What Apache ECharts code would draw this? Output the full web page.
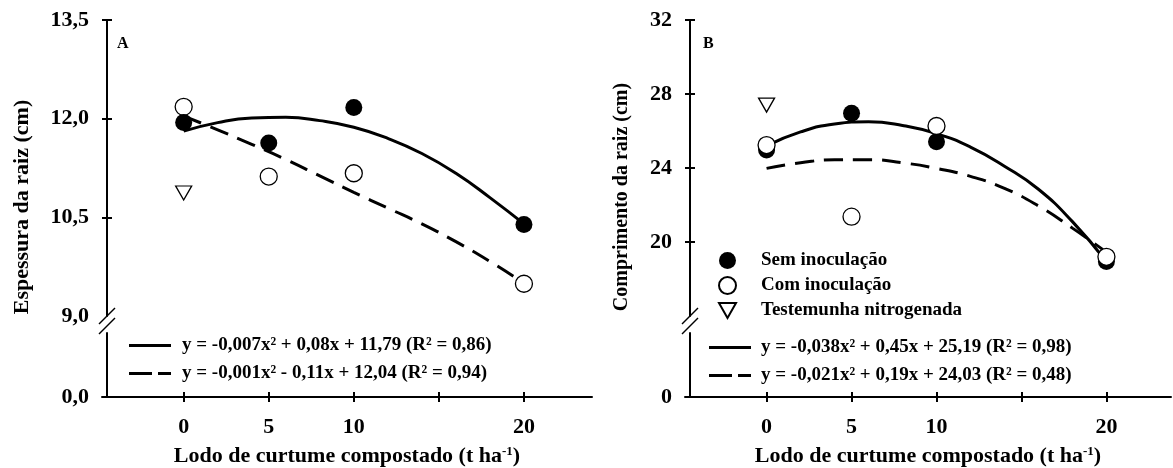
<!DOCTYPE html>
<html>
<head>
<meta charset="utf-8">
<script src="https://cdn.jsdelivr.net/npm/echarts@6/dist/echarts.min.js"></script>
<style>
html, body { margin: 0; padding: 0; background: #fff; }
#chart { width: 1173px; height: 468px; }
</style>
</head>
<body>
<div id="chart"></div>
<script>
// doses de lodo (t/ha)
var doses = [0, 5, 10, 20];
var testDose = [0];

// A - espessura da raiz (cm)
var espSem = [11.94, 11.63, 12.17, 10.39];
var espCom = [12.18, 11.12, 11.17, 9.49];
var espTest = [10.87];

// B - comprimento da raiz (cm)
var compSem = [24.97, 26.96, 25.42, 18.94];
var compCom = [25.24, 21.37, 26.27, 19.2];
var compTest = [27.4];

// curvas ajustadas
var fitX = [0, 2, 4, 6, 8, 10, 12, 14, 16, 18, 20];
var espFitSem = [11.81, 11.94, 12.01, 12.02, 11.97, 11.87, 11.70, 11.47, 11.17, 10.80, 10.40];
var espFitCom = [12.04, 11.83, 11.61, 11.38, 11.13, 10.88, 10.64, 10.40, 10.13, 9.83, 9.50];
var compFitSem = [25.20, 25.95, 26.38, 26.50, 26.30, 25.86, 25.13, 24.10, 22.85, 21.10, 18.94];
var compFitCom = [23.98, 24.28, 24.45, 24.45, 24.28, 23.98, 23.55, 22.90, 21.95, 20.75, 19.45];

var eqA1 = 'y = -0,007x² + 0,08x + 11,79 (R² = 0,86)';
var eqA2 = 'y = -0,001x² - 0,11x + 12,04 (R² = 0,94)';
var eqB1 = 'y = -0,038x² + 0,45x + 25,19 (R² = 0,98)';
var eqB2 = 'y = -0,021x² + 0,19x + 24,03 (R² = 0,48)';

var espLabels = [9, 10.5, 12, 13.5];
var espTicks = [10.5, 12, 13.5];
var compTicks = [20, 24, 28, 32];
var doseLabels = [0, 5, 10, 20];
var doseTicks = [0, 5, 10, 15, 20];

var FONT = 'Liberation Serif';
var xTitle = 'Lodo de curtume compostado (t ha{sup|-1})';

function pairs(xs, ys) {
    return xs.map(function (x, i) { return [x, ys[i]]; });
}
function comma(v) {
    return v.toFixed(1).replace('.', ',');
}
function plain(v) {
    return String(v);
}

var labelStyle = { color: '#000', fontFamily: FONT, fontWeight: 'bold', fontSize: 22 };

// cada eixo recebe seu proprio objeto (objeto compartilhado sumia com os ticks)
function axisLineOn() {
    return { show: true, onZero: false, lineStyle: { color: '#000', width: 2 } };
}
function axisLineOff() {
    return { show: false, onZero: false };
}
function ticks(values, inside) {
    var t = { show: true, length: 5, customValues: values, lineStyle: { color: '#000', width: 2 } };
    if (inside) t.inside = true;
    return t;
}

function topX(grid, max) {
    return { gridIndex: grid, type: 'value', min: -4.8, max: max, show: false };
}
function bottomX(grid, max, inside) {
    return {
        gridIndex: grid, type: 'value', min: -4.8, max: max, position: 'bottom',
        axisLine: inside ? axisLineOff() : axisLineOn(),
        axisTick: ticks(doseTicks, inside),
        axisLabel: inside ? { show: false } : Object.assign({ customValues: doseLabels, margin: 19 }, labelStyle),
        splitLine: { show: false },
        name: inside ? '' : xTitle,
        nameLocation: 'middle',
        nameGap: 48,
        nameTextStyle: {
            color: '#000', fontFamily: FONT, fontWeight: 'bold', fontSize: 22,
            rich: { sup: { fontFamily: FONT, fontWeight: 'bold', fontSize: 13, verticalAlign: 'top', padding: [0, 0, 9, 0] } }
        }
    };
}
function topY(grid, min, max, interval, tickVals, labels, fmt, inside) {
    return {
        gridIndex: grid, type: 'value', position: 'left', offset: -5,
        min: min, max: max, interval: interval,
        axisLine: inside ? axisLineOff() : axisLineOn(),
        axisTick: ticks(tickVals, inside),
        axisLabel: inside ? { show: false } : Object.assign({ customValues: labels, margin: 18, formatter: fmt }, labelStyle),
        splitLine: { show: false }
    };
}
function bottomY(grid, label) {
    return {
        gridIndex: grid, type: 'value', position: 'left', offset: -5, min: 0, max: 1,
        axisLine: axisLineOn(),
        axisTick: { show: false },
        axisLabel: Object.assign({ customValues: [0], margin: 18, formatter: function () { return label; } }, labelStyle),
        splitLine: { show: false }
    };
}

var openStyle = { color: '#fff', borderColor: '#000', borderWidth: 1.3, opacity: 1 };
var triangle = 'path://M0,0L16,0L8,14Z';

function panelSeries(xi, yi, sem, com, test, fitSem, fitCom, eq1, eq2, openOnTop) {
    return [
        { type: 'line', name: eq1, xAxisIndex: xi, yAxisIndex: yi, data: pairs(fitX, fitSem), smooth: true,
          symbol: 'none', lineStyle: { color: '#000', width: 3 }, itemStyle: { color: '#000' }, z: 2 },
        { type: 'line', name: eq2, xAxisIndex: xi, yAxisIndex: yi, data: pairs(fitX, fitCom), smooth: true,
          symbol: 'none', lineStyle: { color: '#000', width: 3, type: [19, 10] }, itemStyle: { color: '#000' }, z: 2 },
        { type: 'scatter', name: 'Sem inoculação', xAxisIndex: xi, yAxisIndex: yi, data: pairs(doses, sem),
          symbol: 'circle', symbolSize: 17, itemStyle: { color: '#000', opacity: 1 }, z: openOnTop ? 3 : 4 },
        { type: 'scatter', name: 'Com inoculação', xAxisIndex: xi, yAxisIndex: yi, data: pairs(doses, com),
          symbol: 'circle', symbolSize: 17, itemStyle: openStyle, z: openOnTop ? 4 : 3 },
        { type: 'scatter', name: 'Testemunha nitrogenada', xAxisIndex: xi, yAxisIndex: yi, data: pairs(testDose, test),
          symbol: triangle, symbolSize: [16, 14], itemStyle: openStyle, z: 3 }
    ];
}

var legendText = { color: '#000', fontFamily: FONT, fontWeight: 'bold', fontSize: 19, lineHeight: 19 };
var solidIcon = 'path://M0,0H42V3H0Z';
var dashIcon = 'path://M0,0H23V3H0ZM29,0H42V3H29Z';

var chart = echarts.init(document.getElementById('chart'));
chart.setOption({
    animation: false,
    backgroundColor: '#fff',
    title: [
        { text: 'A', left: 117, top: 36, padding: 0, textStyle: { color: '#000', fontFamily: FONT, fontWeight: 'bold', fontSize: 16 } },
        { text: 'B', left: 703, top: 36, padding: 0, textStyle: { color: '#000', fontFamily: FONT, fontWeight: 'bold', fontSize: 16 } }
    ],
    grid: [
        { left: 102, top: 20, width: 490, height: 296, outerBoundsMode: 'none' },
        { left: 102, top: 333, width: 490, height: 64, outerBoundsMode: 'none' },
        { left: 685, top: 20, width: 486, height: 296, outerBoundsMode: 'none' },
        { left: 685, top: 333, width: 486, height: 64, outerBoundsMode: 'none' }
    ],
    xAxis: [
        topX(0, 24), bottomX(1, 24, false), bottomX(1, 24, true),
        topX(2, 23.8), bottomX(3, 23.8, false), bottomX(3, 23.8, true)
    ],
    yAxis: [
        topY(0, 9, 13.5, 1.5, espTicks, espLabels, comma, false),
        topY(0, 9, 13.5, 1.5, espTicks, espLabels, comma, true),
        bottomY(1, '0,0'),
        topY(2, 16, 32, 4, compTicks, compTicks, plain, false),
        topY(2, 16, 32, 4, compTicks, compTicks, plain, true),
        bottomY(3, '0')
    ],
    legend: [
        { data: ['Sem inoculação', 'Com inoculação', 'Testemunha nitrogenada'], orient: 'vertical',
          left: 718, top: 251, itemWidth: 17, itemHeight: 17, itemGap: 6, padding: 0, selectedMode: false,
          textStyle: Object.assign({ padding: [0, 0, 0, 20] }, legendText) },
        { data: [{ name: eqA1, icon: solidIcon }, { name: eqA2, icon: dashIcon }], orient: 'vertical', left: 129, top: 336,
          itemWidth: 42, itemHeight: 3, itemGap: 9, padding: 0, selectedMode: false,
          textStyle: Object.assign({ padding: [0, 0, 0, 6] }, legendText) },
        { data: [{ name: eqB1, icon: solidIcon }, { name: eqB2, icon: dashIcon }], orient: 'vertical', left: 709, top: 338,
          itemWidth: 42, itemHeight: 3, itemGap: 9, padding: 0, selectedMode: false,
          textStyle: Object.assign({ padding: [0, 0, 0, 5] }, legendText) }
    ],
    graphic: [
        { type: 'text', x: 22, y: 207, rotation: Math.PI / 2,
          style: { text: 'Espessura da raiz (cm)', fill: '#000', font: 'bold 22px "Liberation Serif"', align: 'center', verticalAlign: 'middle', textAlign: 'center', textVerticalAlign: 'middle' } },
        { type: 'text', x: 622, y: 197, rotation: Math.PI / 2,
          style: { text: 'Comprimento da raiz (cm)', fill: '#000', font: 'bold 20px "Liberation Serif"', align: 'center', verticalAlign: 'middle', textAlign: 'center', textVerticalAlign: 'middle' } },
        // quebras do eixo y
        { type: 'line', shape: { x1: 99, y1: 324, x2: 115, y2: 308 }, style: { stroke: '#000', lineWidth: 1.5 } },
        { type: 'line', shape: { x1: 99, y1: 334, x2: 115, y2: 318 }, style: { stroke: '#000', lineWidth: 1.5 } },
        { type: 'line', shape: { x1: 682, y1: 324, x2: 698, y2: 308 }, style: { stroke: '#000', lineWidth: 1.5 } },
        { type: 'line', shape: { x1: 682, y1: 334, x2: 698, y2: 318 }, style: { stroke: '#000', lineWidth: 1.5 } }
    ],
    series: [].concat(
        panelSeries(0, 0, espSem, espCom, espTest, espFitSem, espFitCom, eqA1, eqA2, false),
        panelSeries(3, 3, compSem, compCom, compTest, compFitSem, compFitCom, eqB1, eqB2, true)
    )
});
</script>
</body>
</html>
